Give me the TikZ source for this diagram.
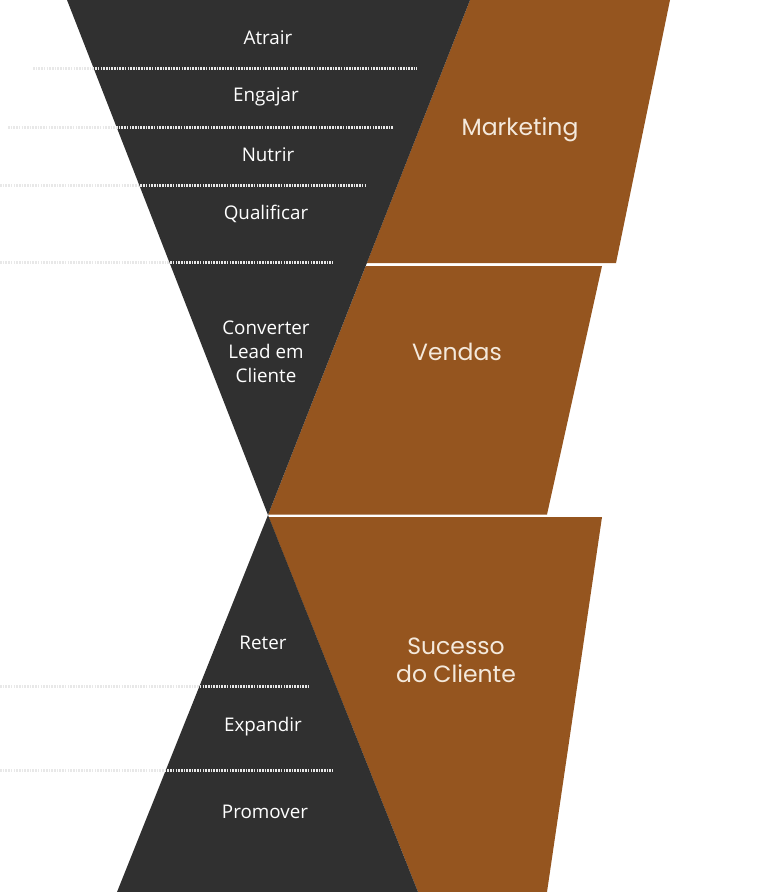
\documentclass[tikz,border=0pt]{standalone}
\usepackage{fontspec}
\setmainfont{Open Sans}
\newfontfamily\teamfont{Poppins}
\usetikzlibrary{calc}
\definecolor{funneldark}{HTML}{303030}
\definecolor{funnelorange}{HTML}{95551F}
\definecolor{teamcream}{HTML}{F4E9DC}
\definecolor{sepgray}{HTML}{E8E8E8}

\begin{document}
\begin{tikzpicture}[x=1pt, y=-1pt,
    stage/.style={text=white, font=\fontsize{18.8}{24}\selectfont, align=center},
    team/.style={text=teamcream, font=\teamfont\fontsize{23.5}{28}\selectfont, align=center},
    sepline/.style={draw=sepgray, line width=3pt, dash pattern=on 1.6pt off 1.1pt}]
    \useasboundingbox (0,0) rectangle (768,892);

    % Orange blocks
    \fill[funnelorange] (470,0) -- (670,0) -- (616,263) -- (366.8,263) -- cycle;
    \fill[funnelorange] (365.7,266) -- (602,266) -- (547,514.5) -- (268.2,514.5) -- cycle;
    \fill[funnelorange] (268.6,517) -- (602,517) -- (547,892) -- (418,892) -- cycle;

    % Dark funnel
    \fill[funneldark] (67,0) -- (470,0) -- (268,515) -- cycle;
    \fill[funneldark] (268,515) -- (418,892) -- (117,892) -- cycle;

    % Separators
    \draw[sepline] (33,68) -- (417,68);
    \draw[sepline] (8,127) -- (393,127);
    \draw[sepline] (0,185) -- (367,185);
    \draw[sepline] (0,262) -- (333,262);
    \draw[sepline] (0,686) -- (309,686);
    \draw[sepline] (0,770) -- (333,770);

    % Stages
    \node[stage] (atrair) at (268,38) {Atrair};
    \node[stage] (engajar) at (266,97) {Engajar};
    \node[stage] (nutrir) at (268,155) {Nutrir};
    \node[stage] (qualificar) at (266,214) {Qualificar};
    \node[stage] (converter) at (266,352) {Converter\\Lead em\\Cliente};
    \node[stage] (reter) at (263,643) {Reter};
    \node[stage] (expandir) at (263,727) {Expandir};
    \node[stage] (promover) at (265,812) {Promover};

    % Teams
    \node[team] (marketing) at (520,130) {Marketing};
    \node[team] (vendas) at (457,352) {Vendas};
    \node[team] (sucesso) at (456,660) {Sucesso\\do Cliente};
\end{tikzpicture}
\end{document}
